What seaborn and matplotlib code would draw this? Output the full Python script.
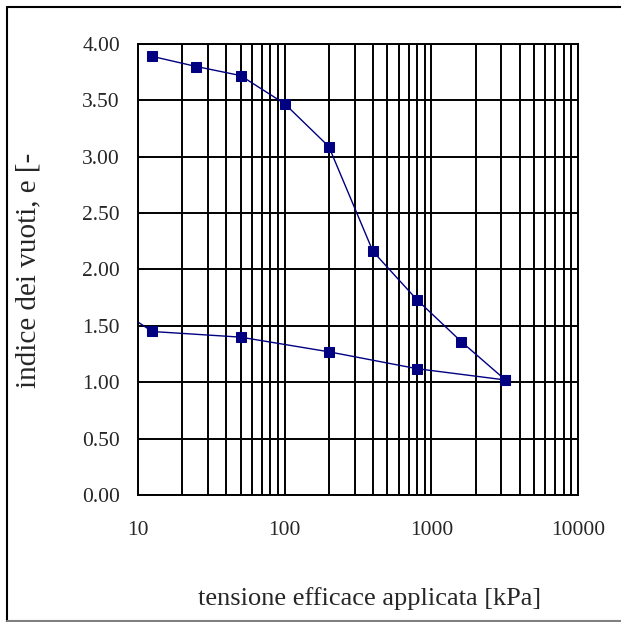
import seaborn as sns
import matplotlib.pyplot as plt
import matplotlib.ticker as mticker
import pandas as pd

# Edometric test: void ratio vs applied effective stress
carico_kpa = [12.5, 25, 50, 100, 200, 400, 800, 1600, 3200]
carico_e = [3.89, 3.80, 3.72, 3.47, 3.09, 2.16, 1.73, 1.36, 1.02]

scarico_kpa = [3200, 800, 200, 50, 12.5, 6.25]
scarico_e = [1.02, 1.12, 1.27, 1.40, 1.45, 1.71]

x_ticks = [10, 100, 1000, 10000]
y_ticks = [0.0, 0.5, 1.0, 1.5, 2.0, 2.5, 3.0, 3.5, 4.0]

carico = pd.DataFrame({"sigma": carico_kpa, "e": carico_e})
scarico = pd.DataFrame({"sigma": scarico_kpa, "e": scarico_e})

sns.set_style("white")
plt.rcParams["font.family"] = ["Liberation Serif", "DejaVu Serif"]

fig = plt.figure(figsize=(6.21, 6.22), dpi=100)
ax = fig.add_axes([0.2222, 0.2042, 0.7086, 0.7251])

navy = "#000080"
for df in (carico, scarico):
    sns.lineplot(data=df, x="sigma", y="e", sort=False, color=navy,
                 linewidth=1.0, marker="s", markersize=7,
                 markeredgecolor=navy, markerfacecolor=navy, ax=ax)

ax.set_xscale("log")
ax.set_xlim(10, 10000)
ax.set_ylim(0, 4)
ax.set_xticks(x_ticks)
ax.xaxis.set_major_formatter(mticker.FuncFormatter(lambda v, p: f"{int(v)}"))
ax.xaxis.set_minor_locator(mticker.LogLocator(base=10, subs=range(2, 10)))
ax.xaxis.set_minor_formatter(mticker.NullFormatter())
ax.set_yticks(y_ticks)
ax.yaxis.set_major_formatter(mticker.FormatStrFormatter("%.2f"))

ax.grid(True, which="both", axis="x", color="black", linewidth=1.4)
ax.grid(True, which="major", axis="y", color="black", linewidth=1.4)
ax.set_axisbelow(True)

ax.tick_params(axis="both", which="major", direction="out", length=6,
               width=1.4, color="black", labelsize=15.5)
ax.tick_params(axis="x", which="major", pad=13)
ax.tick_params(axis="y", which="major", pad=7)
ax.tick_params(axis="x", which="minor", length=0)
for s in ax.spines.values():
    s.set_color("black")
    s.set_linewidth(1.4)

ax.set_xlabel("")
ax.set_ylabel("")
fig.text(0.595, 0.037, "tensione efficace applicata [kPa]", ha="center",
         va="center", fontsize=19)
fig.text(0.046, 0.565, "indice dei vuoti, e [-", ha="center", va="center",
         rotation=90, fontsize=21)

# outer frame of the original figure
fig.add_artist(plt.Line2D([0.0113, 0.0113], [0.0, 0.9887], color="black",
                          linewidth=1.5, transform=fig.transFigure))
fig.add_artist(plt.Line2D([0.0113, 1.0], [0.9887, 0.9887], color="black",
                          linewidth=1.5, transform=fig.transFigure))
fig.add_artist(plt.Line2D([0.0113, 1.0], [0.0024, 0.0024], color="grey",
                          linewidth=1.5, transform=fig.transFigure))

fig.savefig("out.png", dpi=100)
